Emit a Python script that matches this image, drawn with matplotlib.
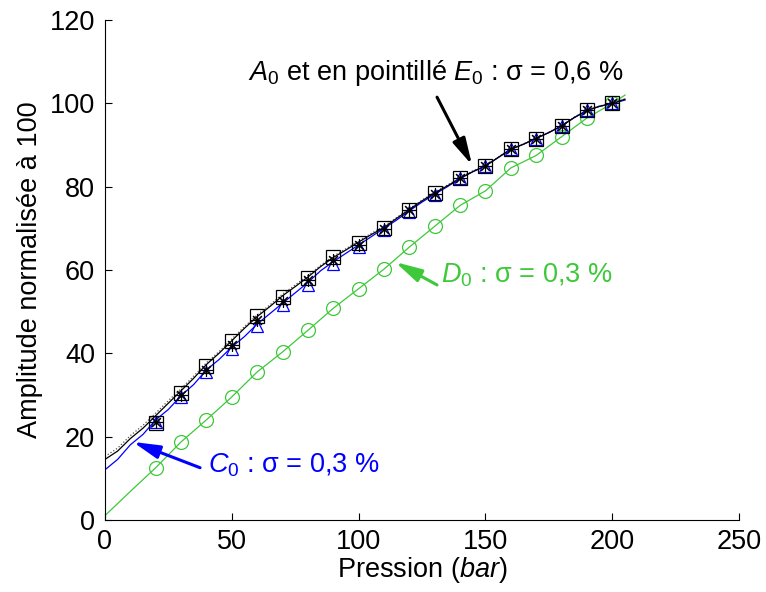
import numpy as np
import matplotlib.pyplot as plt

plt.rcParams['font.family'] = ['Liberation Sans', 'DejaVu Sans']
plt.rcParams['mathtext.fontset'] = 'custom'
plt.rcParams['mathtext.rm'] = 'Liberation Sans'
plt.rcParams['mathtext.it'] = 'Liberation Sans:italic'

# marker positions (bar)
p_mark = [20, 30, 40, 50, 60, 70, 80, 90, 100, 110, 120, 130, 140, 150, 160, 170, 180, 190, 200]
A0_mark = [23.2, 30.5, 37.0, 43.0, 49.0, 53.5, 58.0, 63.0, 66.5, 70.0, 74.5, 78.5, 82.0, 85.0, 89.0, 91.5, 94.5, 98.5, 100.0]
E0_mark = [23.5, 30.0, 36.0, 42.0, 48.0, 52.5, 57.5, 62.5, 66.0, 69.8, 74.3, 78.3, 82.0, 85.0, 89.0, 91.5, 94.5, 98.5, 100.0]
C0_mark = [23.5, 29.5, 35.5, 41.0, 46.5, 51.5, 56.5, 61.5, 65.5, 69.5, 74.0, 78.0, 82.0, 85.0, 89.0, 91.5, 94.5, 98.5, 100.0]
D0_mark = [12.5, 18.7, 24.0, 29.5, 35.5, 40.3, 45.5, 50.8, 55.5, 60.2, 65.5, 70.5, 75.5, 79.0, 84.5, 87.5, 92.0, 96.5, 100.0]

# continuous curves
p_line = [0, 5, 10, 15, 20, 25, 30, 35, 40, 45, 50, 55, 60, 65, 70, 75, 80, 85, 90, 95, 100,
          105, 110, 115, 120, 125, 130, 135, 140, 145, 150, 155, 160, 165, 170, 175, 180, 185, 190, 195, 200, 205]
A0_line = [14.5, 16.5, 19.5, 22.0, 25.0, 28.0, 31.0, 34.0, 37.3, 40.0, 43.0, 46.0, 48.8, 51.2, 53.8, 56.0, 58.3, 60.8, 63.0, 64.8, 66.7,
           68.5, 70.2, 72.4, 74.5, 76.6, 78.5, 80.2, 82.0, 83.6, 85.0, 87.0, 89.0, 90.2, 91.6, 93.0, 94.6, 96.6, 98.3, 99.3, 100.0, 101.0]
E0_line = [15.2, 17.2, 20.2, 22.7, 25.6, 28.6, 31.5, 34.5, 37.7, 40.4, 43.4, 46.4, 49.2, 51.6, 54.2, 56.4, 58.7, 61.1, 63.3, 65.1, 67.0,
           68.8, 70.5, 72.6, 74.7, 76.8, 78.7, 80.4, 82.2, 83.8, 85.2, 87.1, 89.1, 90.3, 91.7, 93.1, 94.7, 96.7, 98.4, 99.4, 100.1, 101.1]
C0_line = [12.0, 14.5, 18.0, 20.5, 24.0, 26.5, 29.8, 32.5, 36.0, 38.5, 41.5, 44.0, 47.0, 49.5, 52.0, 54.5, 57.0, 59.8, 62.0, 64.0, 66.0,
           68.0, 70.0, 72.0, 74.2, 76.3, 78.2, 80.0, 82.0, 83.6, 85.0, 87.0, 89.0, 90.2, 91.6, 93.0, 94.6, 96.6, 98.3, 99.3, 100.0, 100.8]
p_green = [0, 10] + p_mark + [205]
D0_line = [1.0, 6.8] + D0_mark + [102.0]

green = '#3ec83a'
blue = '#0000ff'
fs = 19.5

fig = plt.figure(figsize=(7.66, 5.92), dpi=100)
ax = fig.add_axes([0.137, 0.122, 0.828, 0.844])

ax.plot(p_green, D0_line, color=green, lw=0.9)
ax.plot(p_mark, D0_mark, 'o', mfc='none', mec=green, ms=10, mew=0.9)

ax.plot(p_line, C0_line, color=blue, lw=0.9)
ax.plot(p_line, E0_line, color='#555555', lw=0.9, ls=':')
ax.plot(p_line, A0_line, color='black', lw=0.9)

ax.plot(p_mark, C0_mark, '^', mfc='none', mec=blue, ms=9, mew=0.9)
ax.plot(p_mark, A0_mark, 's', mfc='none', mec='black', ms=10, mew=0.9)
ax.plot(p_mark, E0_mark, marker=(8, 2, 0), ls='none', color='black', ms=9, mew=0.8)

ax.set_xlim(0, 250)
ax.set_ylim(0, 120)
ax.set_xticks([0, 50, 100, 150, 200, 250])
ax.set_yticks([0, 20, 40, 60, 80, 100, 120])
ax.tick_params(direction='in', length=5, labelsize=fs, width=0.8, pad=7)
ax.spines['top'].set_visible(False)
ax.spines['right'].set_visible(False)
ax.set_xlabel('Pression ($\\mathit{bar}$)', fontsize=fs, labelpad=0)
ax.set_ylabel('Amplitude normalisée à 100', fontsize=fs, labelpad=5)

def arrow(tail, tip, color):
    ax.annotate('', xy=tip, xytext=tail,
                arrowprops=dict(arrowstyle='-|>,head_length=0.8,head_width=0.2',
                                color=color, lw=2.2, mutation_scale=20,
                                shrinkA=0, shrinkB=0))

ax.text(56.4, 105.6, '$\\mathit{A}_{0}$ et en pointillé $\\mathit{E}_{0}$ : σ = 0,6 %',
        fontsize=fs, color='black', va='baseline')
arrow((130.9, 101.5), (144.7, 85.2), 'black')

ax.text(132.5, 57.1, '$\\mathit{D}_{0}$ : σ = 0,3 %', fontsize=fs, color=green, va='baseline')
arrow((130.9, 56.4), (114.4, 61.9), green)

ax.text(40.8, 11.3, '$\\mathit{C}_{0}$ : σ = 0,3 %', fontsize=fs, color=blue, va='baseline')
arrow((37.5, 12.5), (11, 18.7), blue)

fig.savefig('out.png', dpi=100)
